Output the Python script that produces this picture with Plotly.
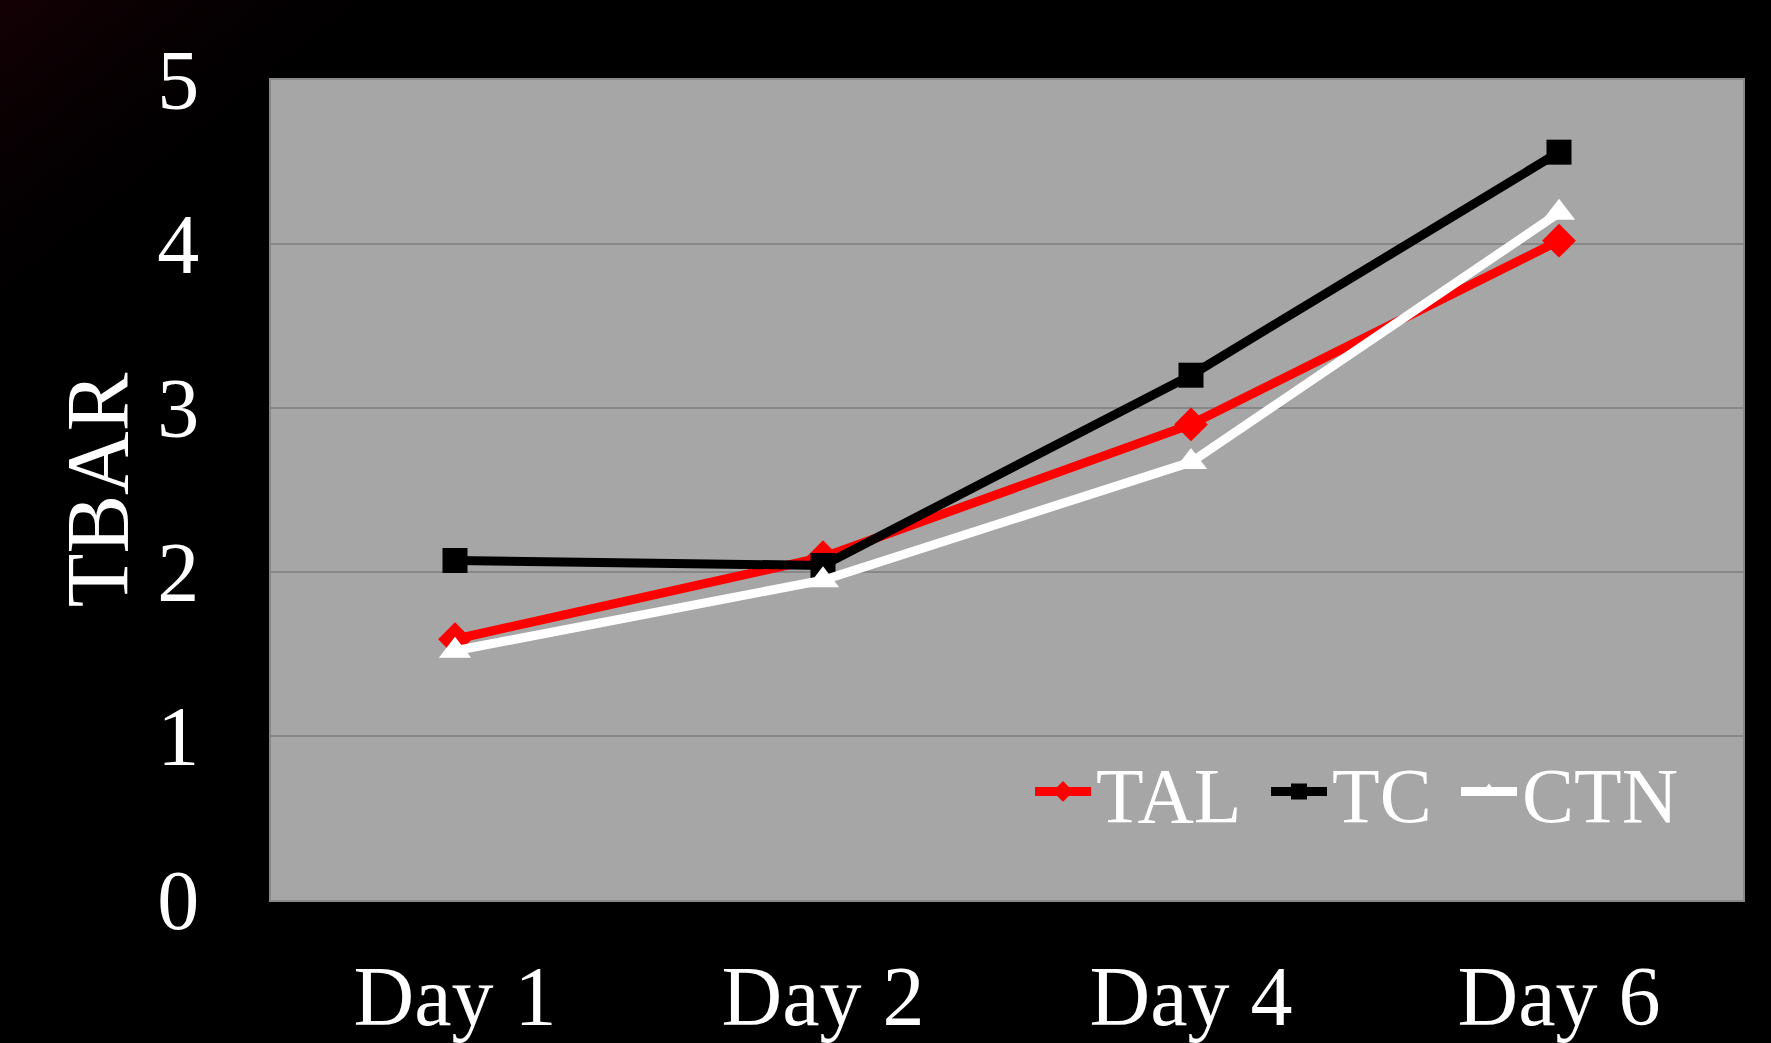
import base64
import plotly.graph_objects as go

categories = ["Day 1", "Day 2", "Day 4", "Day 6"]
tal = [1.59, 2.09, 2.90, 4.02]
tc = [2.07, 2.04, 3.20, 4.56]
ctn = [1.52, 1.95, 2.67, 4.19]
y_ticks = [0, 1, 2, 3, 4, 5]

FONT = "Liberation Serif, Times New Roman, serif"
LEG_FONT = dict(size=78, family=FONT, color="#ffffff")

W, H = 1771, 1043
ML, MR, MT, MB = 271, 28, 80, 143
PW, PH = W - ML - MR, H - MT - MB

fig = go.Figure()
fig.add_trace(go.Scatter(
    x=categories, y=tal, name="TAL", mode="lines+markers", legend="legend",
    line=dict(color="#ff0000", width=9),
    marker=dict(symbol="diamond", size=26, color="#ff0000"),
))
fig.add_trace(go.Scatter(
    x=categories, y=tc, name="TC", mode="lines+markers", legend="legend2",
    line=dict(color="#000000", width=9),
    marker=dict(symbol="square", size=25, color="#000000"),
))
fig.add_trace(go.Scatter(
    x=categories, y=ctn, name="CTN", mode="lines+markers", legend="legend3",
    line=dict(color="#ffffff", width=9),
    marker=dict(symbol="triangle-up", size=28, color="#ffffff"),
))

def leg(px):
    return dict(
        orientation="h", x=(px - ML) / PW, xanchor="left", y=0.132, yanchor="middle",
        bgcolor="rgba(0,0,0,0)", font=LEG_FONT, itemwidth=56,
    )

GW, GH = 420, 340
svg = (f"<svg xmlns='http://www.w3.org/2000/svg' width='{GW}' height='{GH}'>"
       "<defs><linearGradient id='g' x1='0' y1='0' x2='1' y2='1'>"
       "<stop offset='0' stop-color='#140005'/>"
       "<stop offset='0.6' stop-color='#000000' stop-opacity='0'/></linearGradient></defs>"
       f"<path d='M0,0 H{GW} V{MT} H{ML} V{GH} H0 Z' fill='url(#g)'/></svg>")
svg_uri = "data:image/svg+xml;base64," + base64.b64encode(svg.encode()).decode()

fig.update_layout(
    width=W, height=H,
    margin=dict(l=ML, r=MR, t=MT, b=MB),
    paper_bgcolor="#000000",
    plot_bgcolor="#a6a6a6",
    font=dict(family=FONT, color="#ffffff"),
    showlegend=True,
    legend=leg(1030),
    legend2=leg(1266),
    legend3=leg(1456),
    images=[dict(
        source=svg_uri, xref="paper", yref="paper",
        x=-ML / PW, y=1 + MT / PH, sizex=GW / PW, sizey=GH / PH,
        xanchor="left", yanchor="top", sizing="stretch", layer="below",
    )],
    xaxis=dict(
        type="category", range=[-0.5, 3.5], automargin=False,
        tickfont=dict(size=84, family=FONT, color="#ffffff"),
        showgrid=False, zeroline=False,
        showline=True, linecolor="#888888", linewidth=2, mirror=True,
        ticks="", ticklabelstandoff=22,
    ),
    yaxis=dict(
        range=[0, 5], tickvals=y_ticks, automargin=False,
        tickfont=dict(size=84, family=FONT, color="#ffffff"),
        showgrid=True, gridcolor="#878787", gridwidth=2,
        zeroline=False,
        showline=True, linecolor="#888888", linewidth=2, mirror=True,
        ticks="", ticklabelstandoff=53,
        title=dict(text="TBAR", font=dict(size=88, family=FONT, color="#ffffff"), standoff=0),
    ),
)

fig.write_html(
    "out.html",
    config={"displayModeBar": False},
    post_script="document.body.style.margin='0';document.body.style.background='#000';",
)
